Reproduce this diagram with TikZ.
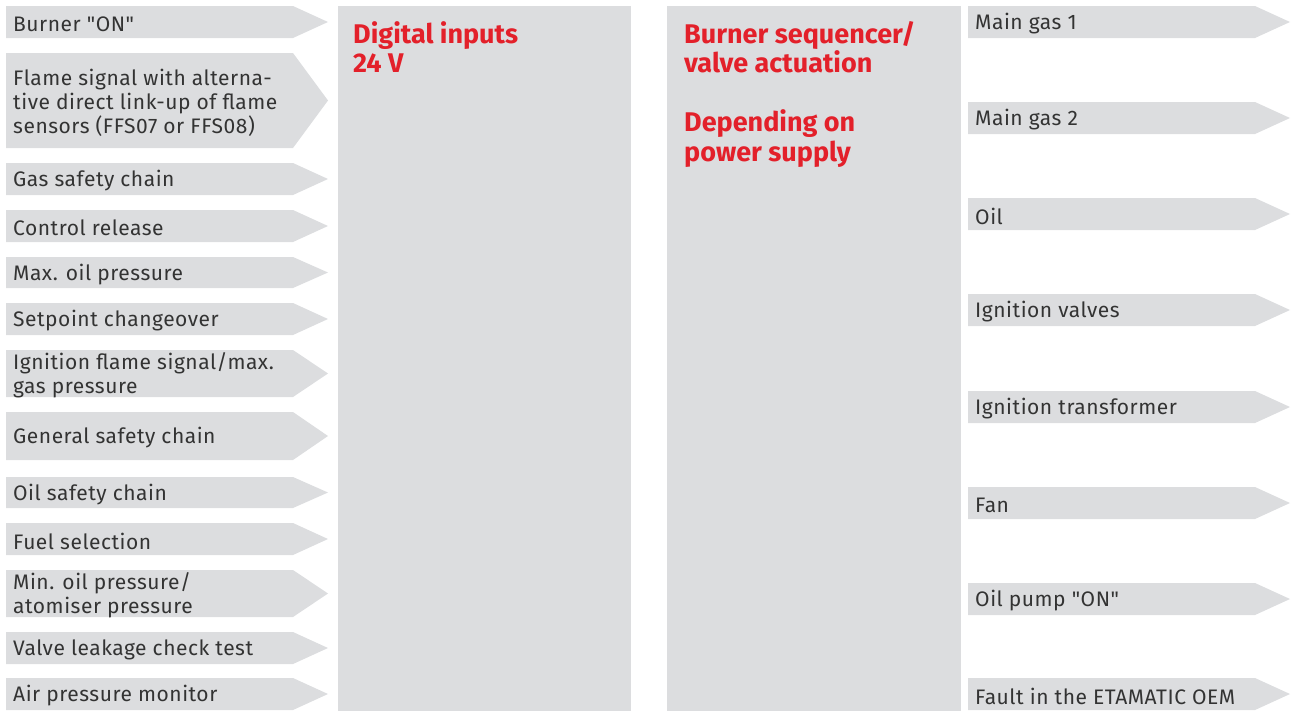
\documentclass[tikz,border=0pt]{standalone}
\usepackage{fontspec}
\setmainfont{Fira Sans}[Ligatures=TeXOff]
\newfontfamily\lblfont{Fira Sans}[Ligatures=TeXOff,LetterSpace=2.5]
\definecolor{boxgray}{HTML}{DCDDDF}
\definecolor{txtgray}{HTML}{333333}
\definecolor{headred}{HTML}{E3202A}
\tikzset{
  lbl/.style={anchor=west, inner sep=0pt, align=left, text=txtgray,
    font=\lblfont\fontsize{21}{24}\selectfont},
  headtxt/.style={anchor=north west, inner sep=0pt, align=left, text=headred,
    font=\bfseries\fontsize{27}{29.5}\selectfont},
  panel/.style={fill=boxgray, draw=none}
}
\newcommand\inarrow[4]{%
  \fill[boxgray] (6,#2) -- (293,#2) -- (328,{(#2+#3)/2}) -- (293,#3) -- (6,#3) -- cycle;
  \node[lbl] (#1) at (13,{(#2+#3)/2+2}) {#4};}
\newcommand\outarrow[3]{%
  \fill[boxgray] (968,#2) -- (1255,#2) -- (1290,{#2+16}) -- (1255,{#2+32}) -- (968,{#2+32}) -- cycle;
  \node[lbl] (#1) at (975,{#2+18}) {#3};}
\begin{document}
\begin{tikzpicture}[x=1pt,y=-1pt]
\useasboundingbox (0,0) rectangle (1292,713);
% panels
\fill[panel] (338,6) rectangle (631,711);
\fill[panel] (667,6) rectangle (961,711);
\node[headtxt] (h1) at (353,21) {Digital inputs\\24 V};
\node[headtxt] (h2) at (684,21) {Burner sequencer/\\valve actuation\\[29.5pt]Depending on\\power supply};
% inputs
\inarrow{i1}{6}{38}{Burner "ON"}
\inarrow{i2}{53}{148}{Flame signal with alterna-\\tive direct link-up of flame\\sensors (FFS07 or FFS08)}
\inarrow{i3}{163}{195}{Gas safety chain}
\inarrow{i4}{210}{242}{Control release}
\inarrow{i5}{257}{288}{Max. oil pressure}
\inarrow{i6}{303}{335}{Setpoint changeover}
\inarrow{i7}{350}{397}{Ignition flame signal/max.\\gas pressure}
\inarrow{i8}{412}{460}{General safety chain}
\inarrow{i9}{477}{508}{Oil safety chain}
\inarrow{i10}{523}{555}{Fuel selection}
\inarrow{i11}{570}{617}{Min. oil pressure/\\atomiser pressure}
\inarrow{i12}{632}{664}{Valve leakage check test}
\inarrow{i13}{678}{710}{Air pressure monitor}
% outputs
\outarrow{o1}{6}{Main gas 1}
\outarrow{o2}{102}{Main gas 2}
\outarrow{o3}{198}{Oil}
\outarrow{o4}{294}{Ignition valves}
\outarrow{o5}{391}{Ignition transformer}
\outarrow{o6}{487}{Fan}
\outarrow{o7}{583}{Oil pump "ON"}
\outarrow{o8}{678}{Fault in the ETAMATIC OEM}
\end{tikzpicture}
\end{document}
